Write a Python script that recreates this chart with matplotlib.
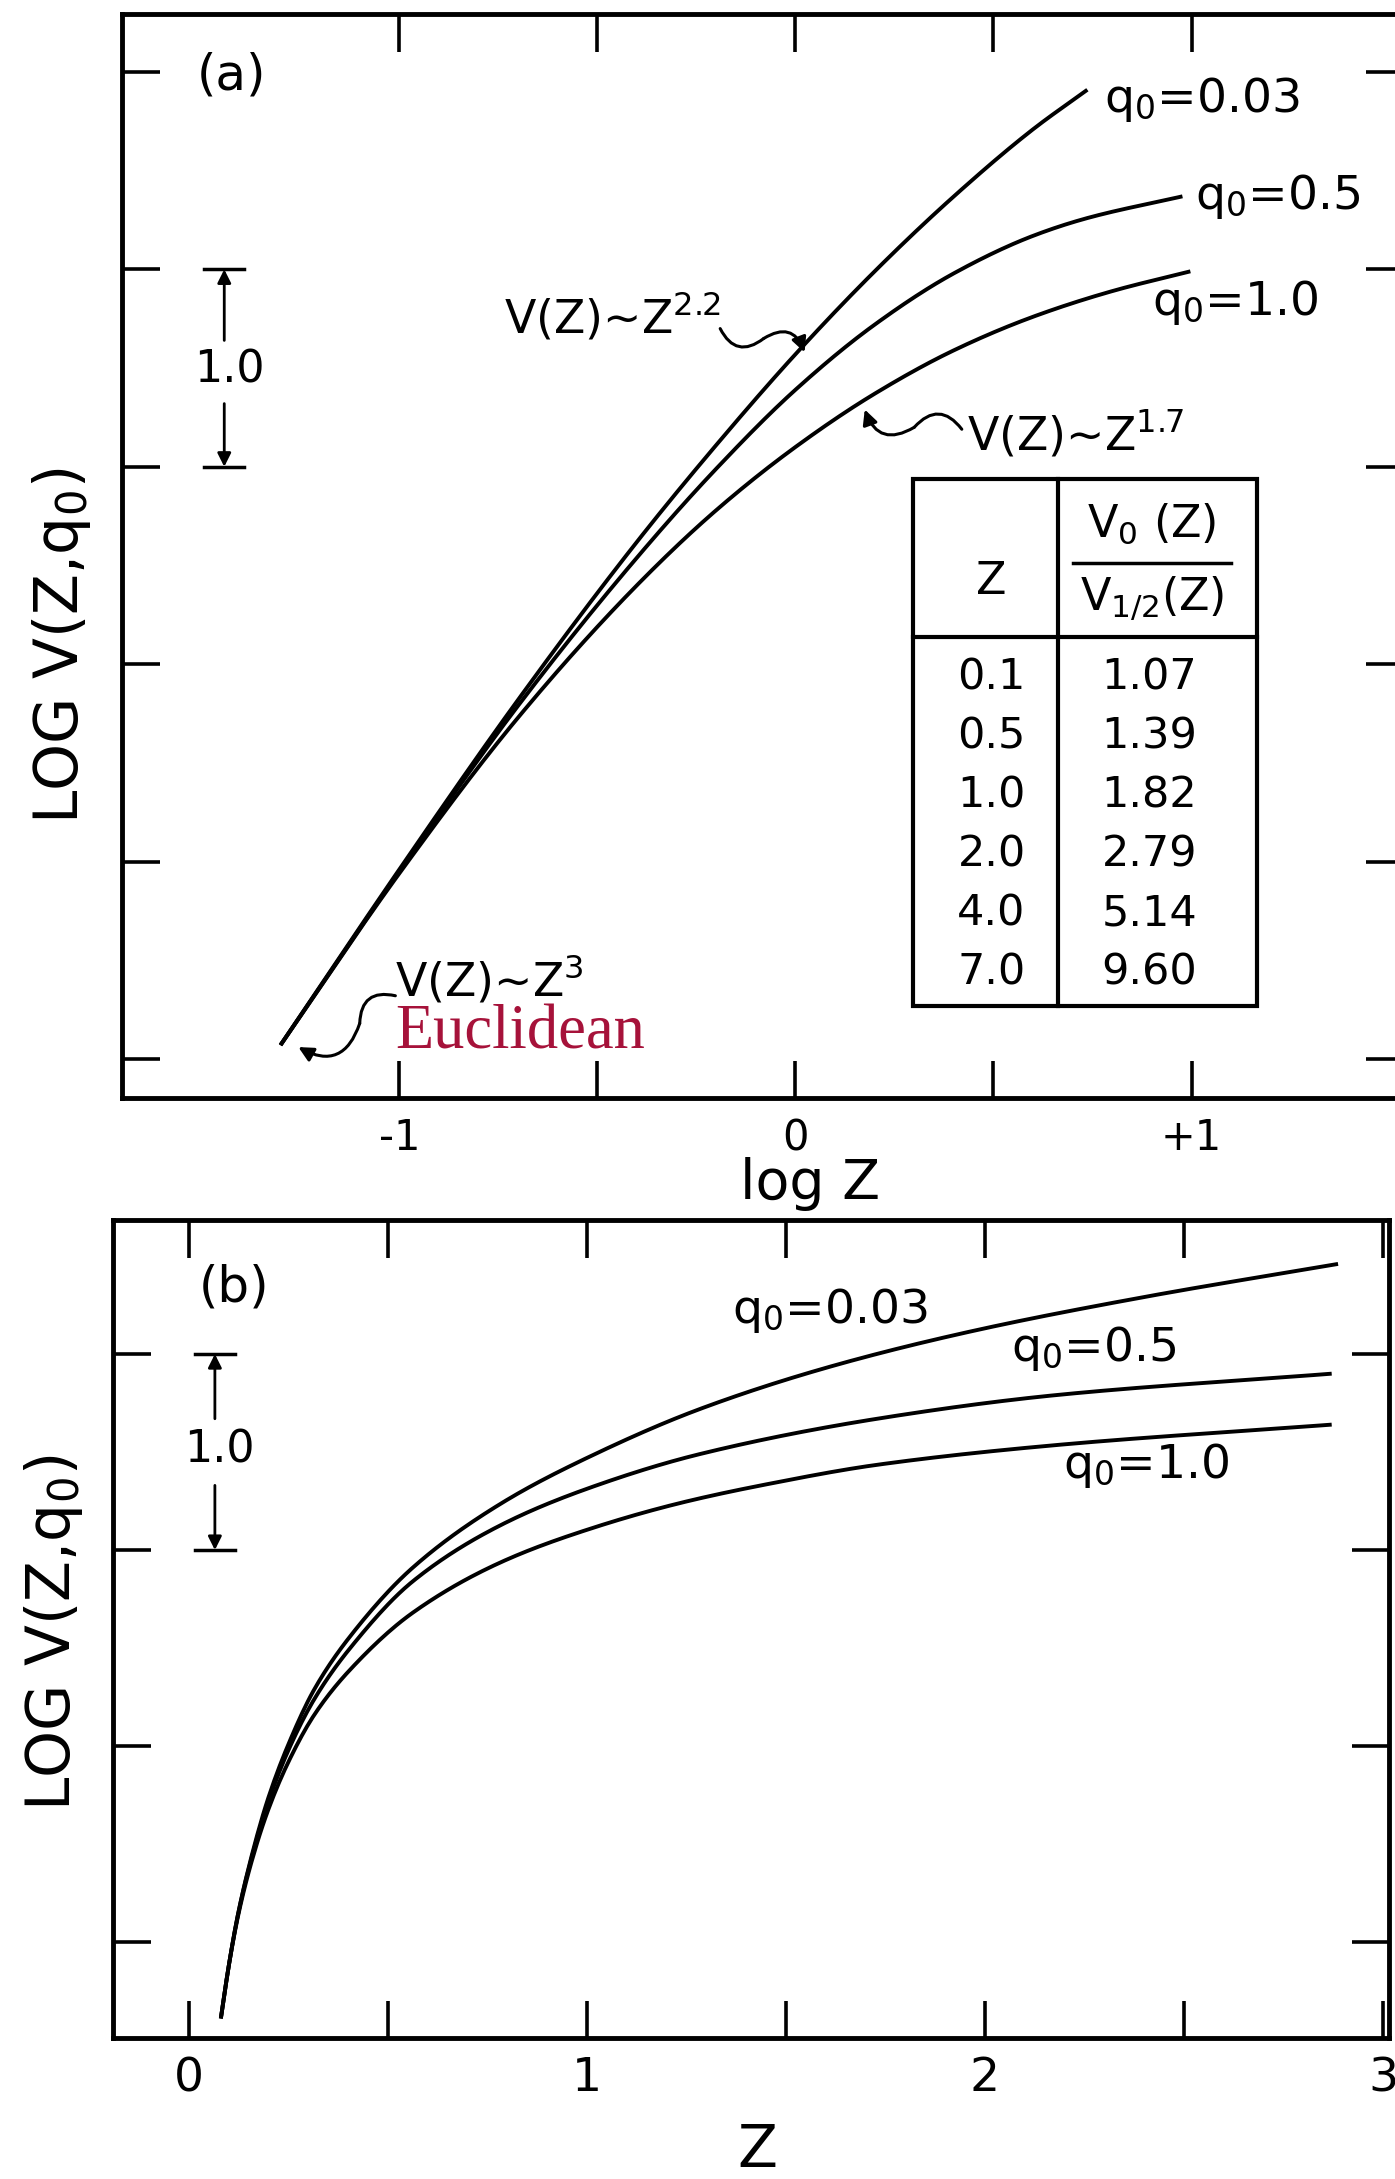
import numpy as np
import matplotlib.pyplot as plt
from matplotlib.patches import Rectangle

plt.rcParams['font.family'] = ['DejaVu Sans']
plt.rcParams['mathtext.default'] = 'regular'

# ---- panel (a): log V vs log Z ----
logz_003 = [-1.30, -1.0, -0.7, -0.4, -0.2, 0.0, 0.2, 0.4, 0.6, 0.737]
logv_003 = [0.07, 0.96, 1.82, 2.62, 3.11, 3.57, 3.99, 4.37, 4.71, 4.91]
logz_05 = [-1.30, -1.0, -0.7, -0.4, -0.2, 0.0, 0.2, 0.4, 0.6, 0.737, 0.977]
logv_05 = [0.07, 0.95, 1.79, 2.54, 2.99, 3.39, 3.72, 3.98, 4.17, 4.26, 4.37]
logz_10 = [-1.30, -1.0, -0.7, -0.4, -0.2, 0.0, 0.2, 0.4, 0.6, 0.8, 0.997]
logv_10 = [0.07, 0.94, 1.73, 2.40, 2.78, 3.10, 3.37, 3.59, 3.76, 3.89, 3.99]

# ---- panel (b): log V vs Z ----
z_003 = [0.08, 0.10, 0.124, 0.16, 0.20, 0.25, 0.315, 0.405, 0.562, 0.786, 1.01, 1.284, 1.618, 1.974, 2.397, 2.887]
v_003 = [-0.39, -0.12, 0.15, 0.46, 0.74, 1.01, 1.29, 1.56, 1.91, 2.24, 2.48, 2.72, 2.94, 3.12, 3.29, 3.46]
z_05 = [0.08, 0.10, 0.124, 0.16, 0.20, 0.25, 0.315, 0.405, 0.562, 0.786, 1.01, 1.284, 1.729, 2.175, 2.871]
v_05 = [-0.39, -0.12, 0.15, 0.45, 0.72, 0.98, 1.24, 1.50, 1.84, 2.13, 2.32, 2.49, 2.67, 2.79, 2.90]
z_10 = [0.08, 0.10, 0.124, 0.16, 0.20, 0.25, 0.315, 0.405, 0.562, 0.786, 1.01, 1.234, 1.45, 1.729, 2.175, 2.871]
v_10 = [-0.39, -0.12, 0.14, 0.43, 0.68, 0.92, 1.16, 1.39, 1.68, 1.94, 2.11, 2.24, 2.335, 2.435, 2.535, 2.64]

# inset table
table_z = ['0.1', '0.5', '1.0', '2.0', '4.0', '7.0']
table_ratio = ['1.07', '1.39', '1.82', '2.79', '5.14', '9.60']


def smooth(x, y, n=400):
    # monotone cubic (pchip) through the read points
    x = np.asarray(x, float)
    y = np.asarray(y, float)
    h = np.diff(x)
    d = np.diff(y) / h
    m = np.zeros_like(y)
    m[0], m[-1] = d[0], d[-1]
    for k in range(1, len(x) - 1):
        if d[k - 1] * d[k] > 0:
            w1 = 2 * h[k] + h[k - 1]
            w2 = h[k] + 2 * h[k - 1]
            m[k] = (w1 + w2) / (w1 / d[k - 1] + w2 / d[k])
    xs = np.linspace(x[0], x[-1], n)
    i = np.clip(np.searchsorted(x, xs) - 1, 0, len(h) - 1)
    t = (xs - x[i]) / h[i]
    ys = ((2 * t**3 - 3 * t**2 + 1) * y[i] + (t**3 - 2 * t**2 + t) * h[i] * m[i]
          + (-2 * t**3 + 3 * t**2) * y[i + 1] + (t**3 - t**2) * h[i] * m[i + 1])
    return xs, ys


def squiggle(ax, start, mid, tip):
    # little S-shaped pointer from a label to a curve
    ax.annotate('', xy=mid, xytext=start,
                arrowprops=dict(arrowstyle='-', lw=2.2, color='black',
                                connectionstyle='arc3,rad=0.6', shrinkA=0, shrinkB=0))
    ax.annotate('', xy=tip, xytext=mid,
                arrowprops=dict(arrowstyle='-|>', lw=2.2, color='black', mutation_scale=22,
                                connectionstyle='arc3,rad=-0.6', shrinkA=0, shrinkB=0))


def scale_bar(ax, x, y0, y1, half, ytext_lo, ytext_hi, ytext):
    ax.plot([x - half, x + half], [y1, y1], color='black', lw=2.5)
    ax.plot([x - half, x + half], [y0, y0], color='black', lw=2.5)
    ax.annotate('', xy=(x, y1), xytext=(x, ytext_hi),
                arrowprops=dict(arrowstyle='-|>', lw=2, color='black', mutation_scale=20,
                                shrinkA=0, shrinkB=0))
    ax.annotate('', xy=(x, y0), xytext=(x, ytext_lo),
                arrowprops=dict(arrowstyle='-|>', lw=2, color='black', mutation_scale=20,
                                shrinkA=0, shrinkB=0))
    ax.text(x + half * 0.25, ytext, '1.0', fontsize=32, ha='center', va='center')


def frame(ax):
    for s in ax.spines.values():
        s.set_linewidth(3.5)
    ax.tick_params(which='both', direction='in', length=27, width=2.6,
                   top=True, right=True, labelleft=False, labelright=False, labeltop=False)


fig = plt.figure(figsize=(13.95, 21.79), dpi=100)

# ================= panel (a) =================
ax1 = fig.add_axes([0.0875, 0.4961, 0.918, 0.4975])
ax1.set_xlim(-1.70, 1.533)
ax1.set_ylim(-0.198, 5.294)
for lx, ly in [(logz_003, logv_003), (logz_05, logv_05), (logz_10, logv_10)]:
    xs, ys = smooth(lx, ly)
    ax1.plot(xs, ys, color='black', lw=2.8, solid_capstyle='butt')
frame(ax1)
ax1.set_xticks([-1, 0, 1])
ax1.set_xticklabels(['-1', '0', '+1'])
ax1.set_xticks([-0.5, 0.5], minor=True)
ax1.set_yticks([0, 1, 2, 3, 4, 5])
ax1.tick_params(axis='x', which='major', labelsize=30, pad=14)
ax1.set_xlabel('log Z', fontsize=40, va='center')
ax1.xaxis.set_label_coords(0.537, -0.079)
ax1.set_ylabel('LOG V(Z,q$_0$)', fontsize=43, va='center')
ax1.yaxis.set_label_coords(-0.047, 0.417)

ax1.text(-1.424, 4.98, '(a)', fontsize=36, ha='center', va='center')
scale_bar(ax1, -1.442, 3.0, 4.0, 0.05, 3.32, 3.64, 3.49)

ax1.text(0.78, 4.86, 'q$_0$=0.03', fontsize=34, ha='left', va='center')
ax1.text(1.008, 4.37, 'q$_0$=0.5', fontsize=34, ha='left', va='center')
ax1.text(0.90, 3.83, 'q$_0$=1.0', fontsize=34, ha='left', va='center')

ax1.text(-0.737, 3.76, 'V(Z)~Z$^{2.2}$', fontsize=33, ha='left', va='center')
squiggle(ax1, (-0.19, 3.70), (-0.08, 3.65), (0.023, 3.58))
ax1.text(0.434, 3.16, 'V(Z)~Z$^{1.7}$', fontsize=33, ha='left', va='center')
squiggle(ax1, (0.42, 3.19), (0.30, 3.20), (0.175, 3.29))
ax1.text(-1.01, 0.40, 'V(Z)~Z$^{3}$', fontsize=33, ha='left', va='center')
squiggle(ax1, (-1.01, 0.32), (-1.10, 0.18), (-1.255, 0.06))
ax1.text(-1.01, 0.13, 'Euclidean', fontsize=45, ha='left', va='center',
         color='#a6123a', family=['Liberation Serif', 'DejaVu Serif'])

# table
t_left, t_mid, t_right = 0.298, 0.664, 1.164
t_top, t_head, t_bot = 2.94, 2.14, 0.27
ax1.add_patch(Rectangle((t_left, t_bot), t_right - t_left, t_top - t_bot,
                        fill=False, lw=3, ec='black'))
ax1.plot([t_mid, t_mid], [t_bot, t_top], color='black', lw=3)
ax1.plot([t_left, t_right], [t_head, t_head], color='black', lw=3)
ax1.plot([0.70, 1.10], [2.51, 2.51], color='black', lw=2.5)
ax1.text(0.495, 2.42, 'Z', fontsize=32, ha='center', va='center')
ax1.text(0.90, 2.71, 'V$_0$ (Z)', fontsize=32, ha='center', va='center')
ax1.text(0.90, 2.33, 'V$_{1/2}$(Z)', fontsize=32, ha='center', va='center')
row_y = np.linspace(1.93, 0.44, len(table_z))
for yy, zz, rr in zip(row_y, table_z, table_ratio):
    ax1.text(0.495, yy, zz, fontsize=31, ha='center', va='center')
    ax1.text(0.894, yy, rr, fontsize=31, ha='center', va='center')

# ================= panel (b) =================
ax2 = fig.add_axes([0.081, 0.0647, 0.9147, 0.3754])
ax2.set_xlim(-0.191, 3.015)
ax2.set_ylim(-0.49, 3.684)
for zx, vy in [(z_003, v_003), (z_05, v_05), (z_10, v_10)]:
    xs, ys = smooth(zx, vy)
    ax2.plot(xs, ys, color='black', lw=2.8, solid_capstyle='butt')
frame(ax2)
ax2.set_xticks([0, 1, 2, 3])
ax2.set_xticks([0.5, 1.5, 2.5], minor=True)
ax2.set_yticks([0, 1, 2, 3])
ax2.tick_params(axis='x', which='major', labelsize=34, pad=13)
ax2.set_xlabel('Z', fontsize=42, va='center')
ax2.xaxis.set_label_coords(0.505, -0.138)
ax2.set_ylabel('LOG V(Z,q$_0$)', fontsize=43, va='center')
ax2.yaxis.set_label_coords(-0.047, 0.496)

ax2.text(0.113, 3.34, '(b)', fontsize=36, ha='center', va='center')
scale_bar(ax2, 0.065, 2.0, 3.0, 0.05, 2.33, 2.67, 2.51)

ax2.text(1.364, 3.22, 'q$_0$=0.03', fontsize=34, ha='left', va='center')
ax2.text(2.066, 3.03, 'q$_0$=0.5', fontsize=34, ha='left', va='center')
ax2.text(2.196, 2.43, 'q$_0$=1.0', fontsize=34, ha='left', va='center')

fig.savefig('out.png', dpi=100)
